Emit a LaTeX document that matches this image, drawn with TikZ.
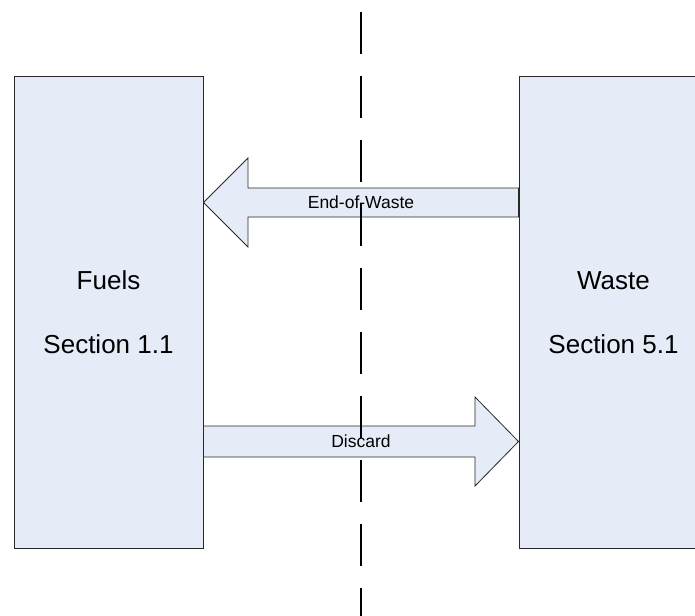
\documentclass[tikz,border=0pt]{standalone}
\usepackage{fontspec}
\setmainfont{Liberation Sans}
\definecolor{boxfill}{RGB}{230,236,247}
\definecolor{boxline}{RGB}{40,40,40}
\begin{document}
\begin{tikzpicture}[x=1pt,y=-1pt,
  sectionbox/.style={draw=boxline,line width=1pt,fill=boxfill,minimum width=189pt,minimum height=471pt,inner sep=0pt,align=center,font=\fontsize{26}{64}\selectfont},
  blockarrow/.style={draw=boxline,line width=0.8pt,fill=boxfill,line join=miter},
  arrowlabel/.style={font=\fontsize{17.5}{20}\selectfont,inner sep=0pt},
  divider/.style={line width=2.5pt,dash pattern=on 42pt off 22pt}]
\useasboundingbox (0,0) rectangle (695,615);
\clip (0,0) rectangle (695,615);
\node[sectionbox] (fuels) at (108.5,312.5) {Fuels\\Section 1.1};
\node[sectionbox] (waste) at (613.5,312.5) {Waste\\Section 5.1};
% End-of-Waste block arrow (from Waste to Fuels)
\draw[blockarrow] (waste.west |- 0,188) -- (248,188) -- (248,158) -- (fuels.east |- 0,202.5)
  -- (248,247) -- (248,217) -- (waste.west |- 0,217) -- cycle;
% Discard block arrow (from Fuels to Waste)
\draw[blockarrow] (fuels.east |- 0,426) -- (475,426) -- (475,397) -- (waste.west |- 0,441.5)
  -- (475,486) -- (475,457) -- (fuels.east |- 0,457) -- cycle;
\coordinate (divtop) at (361,12);
\coordinate (divbot) at (361,640);
\draw[divider] (divtop) -- (divbot);
\node[arrowlabel] (eow) at (361,202.5) {End-of-Waste};
\node[arrowlabel] (disc) at (361,441.5) {Discard};
\end{tikzpicture}
\end{document}
